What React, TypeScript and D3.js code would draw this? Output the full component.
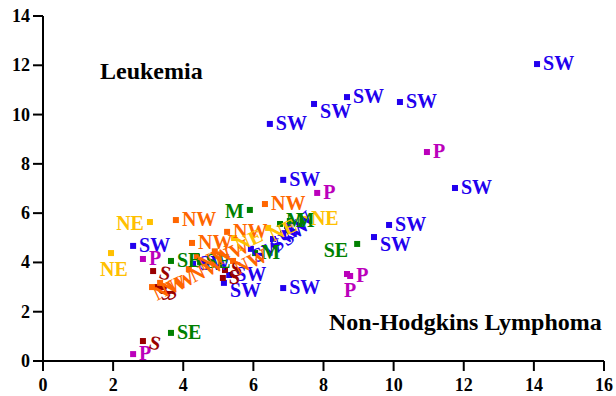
import React from "react";
import * as d3 from "d3";

// Non-Hodgkins Lymphoma rate (x) vs Leukemia rate (y), by region
const regions: string[] = [
  "SW","SW","SW","SW","SW","SW","SW","SW","SW","SW","SW","SW","SW","SW","SW","SW","SW","SW",
  "P","P","P","P","P","P",
  "S","S","S","S","S","S",
  "SE","SE","SE","SE",
  "M","M","M","M",
  "NW","NW","NW","NW","NW","NW","NW","NW","NW","NW",
  "NE","NE","NE","NE","NE",
];
const lymphoma: number[] = [
  14.09,10.18,8.67,7.73,6.47,11.75,6.85,9.87,9.44,2.57,6.85,6.96,6.85,6.56,5.93,5.31,5.16,4.28,
  10.95,7.82,8.67,8.76,2.85,2.57,
  2.85,3.14,3.25,3.42,5.13,5.19,
  3.65,8.96,3.65,4.48,
  5.90,6.76,7.04,6.05,
  6.33,3.79,4.25,5.25,4.16,4.39,5.42,3.11,3.34,4.90,
  3.05,1.94,5.45,6.42,7.47,
];
const leukemia: number[] = [
  12.05,10.51,10.71,10.43,9.62,7.02,7.35,5.52,5.03,4.67,2.96,5.48,5.19,4.95,4.55,3.49,3.17,3.94,
  8.48,6.82,3.53,3.45,4.14,0.28,
  0.81,3.65,3.00,3.00,3.37,3.69,
  1.14,4.75,4.06,4.02,
  6.13,5.56,5.68,4.38,
  6.37,5.72,4.79,5.24,3.73,4.22,4.06,3.00,3.17,4.45,
  5.64,4.38,4.99,5.40,5.76,
];
// label placement code for each point (layout only)
const placement: string[] = [
  "r","r","r","rb","r","r","r","r","rb","r","r","rot45","rot45","rot45","rot","r","rb","r",
  "r","r","b","r","r","r",
  "rs","rs","rot","rot","r","r",
  "r","lb","r","r",
  "l","ru","r","r",
  "r","r","r","r","rot","rot","rot","rot","rot","rot",
  "l","b","rot","rot","r",
];
const xTicks = [0, 2, 4, 6, 8, 10, 12, 14, 16];
const yTicks = [0, 2, 4, 6, 8, 10, 12, 14];

const colors: Record<string, string> = {
  SW: "#2200ee",
  P: "#bb00bb",
  S: "#990000",
  SE: "#008000",
  M: "#008000",
  NW: "#ff6600",
  NE: "#ffc000",
};

const FONT = "'Liberation Serif', 'Times New Roman', serif";

export default function App() {
  const x = d3.scaleLinear().domain([0, 16]).range([43, 604]);
  const y = d3.scaleLinear().domain([0, 14]).range([361, 16]);

  const labelProps = (code: string, px: number, py: number) => {
    switch (code) {
      case "l":
        return { x: px - 6, y: py + 8, anchor: "end", rot: 0 };
      case "lb":
        return { x: px - 9, y: py + 13, anchor: "end", rot: 0 };
      case "b":
        return { x: px + 3, y: py + 23, anchor: "middle", rot: 0 };
      case "rb":
        return { x: px + 6, y: py + 14, anchor: "start", rot: 0 };
      case "ru":
        return { x: px + 6, y: py + 3, anchor: "start", rot: 0 };
      case "rs":
        return { x: px + 5, y: py + 7, anchor: "start", rot: 15 };
      case "rot":
        return { x: px + 5, y: py + 14, anchor: "start", rot: -25 };
      case "rot45":
        return { x: px + 4, y: py + 14, anchor: "start", rot: -40 };
      default:
        return { x: px + 6, y: py + 6, anchor: "start", rot: 0 };
    }
  };

  return (
    <svg
      width={616}
      height={396}
      style={{ position: "absolute", left: 0, top: 0, background: "#fff" }}
      fontFamily={FONT}
      fontWeight="bold"
    >
      {/* axes */}
      <line x1={x(0)} x2={x(16)} y1={y(0)} y2={y(0)} stroke="#000" strokeWidth={2} />
      <line x1={x(0)} x2={x(0)} y1={y(0)} y2={y(14)} stroke="#000" strokeWidth={2} />
      {xTicks.map((t) => (
        <g key={"xt" + t}>
          <line x1={x(t)} x2={x(t)} y1={y(0)} y2={y(0) + 10} stroke="#000" strokeWidth={2} />
          <text x={x(t)} y={391} textAnchor="middle" fontSize={18} fill="#000">
            {t}
          </text>
        </g>
      ))}
      {yTicks.map((t) => (
        <g key={"yt" + t}>
          <line x1={x(0) - 10} x2={x(0)} y1={y(t)} y2={y(t)} stroke="#000" strokeWidth={2} />
          <text x={30} y={y(t) + 6} textAnchor="end" fontSize={18} fill="#000">
            {t}
          </text>
        </g>
      ))}

      {/* points */}
      {regions.map((r, i) => {
        const px = x(lymphoma[i]);
        const py = y(leukemia[i]);
        return (
          <rect key={"p" + i} x={px - 3} y={py - 3} width={6} height={6} fill={colors[r]} />
        );
      })}
      {/* labels */}
      {regions.map((r, i) => {
        const px = x(lymphoma[i]);
        const py = y(leukemia[i]);
        const lp = labelProps(placement[i], px, py);
        return (
          <text
            key={"l" + i}
            x={lp.x}
            y={lp.y}
            textAnchor={lp.anchor as any}
            fontSize={20}
            fill={colors[r]}
            transform={lp.rot ? `rotate(${lp.rot},${lp.x},${lp.y})` : undefined}
          >
            {r}
          </text>
        );
      })}

      <text x={100} y={79} fontSize={24} fill="#000">
        Leukemia
      </text>
      <text x={329} y={330} fontSize={24} fill="#000">
        Non-Hodgkins Lymphoma
      </text>
    </svg>
  );
}
